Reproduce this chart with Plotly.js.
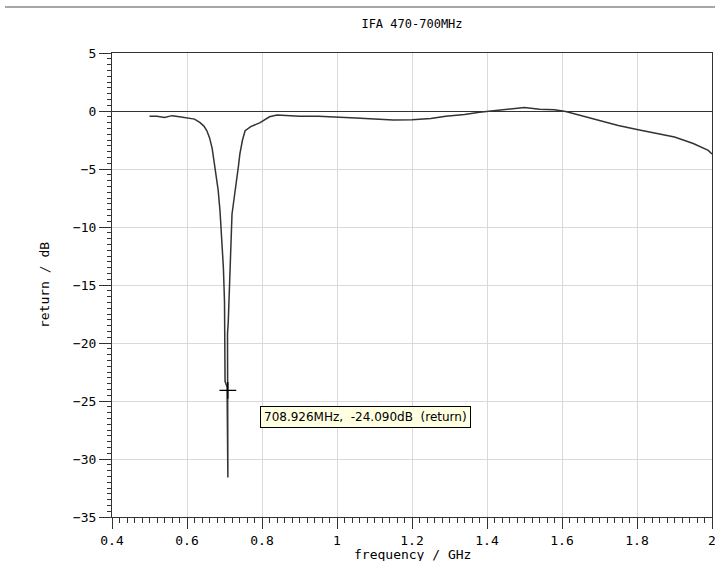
<!DOCTYPE html>
<html>
<head>
<meta charset="utf-8">
<script src="https://cdn.plot.ly/plotly-3.0.1.min.js"></script>
<style>html,body{margin:0;padding:0;background:#fff;}#chart{width:715px;height:561px;}</style>
</head>
<body>
<div id="chart"></div>
<script>
// Return loss curve (GHz, dB)
const freqGHz = [0.50,0.52,0.54,0.56,0.58,0.60,0.62,0.635,0.645,0.653,0.66,0.667,0.672,0.677,0.683,0.688,0.693,0.697,0.700,0.701,0.7012,0.7015,0.7068,0.707,0.709,0.7078,0.708,0.708,0.710,0.712,0.713,0.716,0.720,0.727,0.733,0.737,0.741,0.748,0.755,0.77,0.795,0.82,0.84,0.86,0.90,0.95,1.00,1.05,1.10,1.15,1.20,1.25,1.29,1.34,1.38,1.43,1.47,1.50,1.54,1.58,1.61,1.65,1.70,1.75,1.80,1.85,1.90,1.95,1.99,2.00];
const returnDb = [-0.45,-0.45,-0.55,-0.4,-0.5,-0.6,-0.7,-1.0,-1.3,-1.7,-2.3,-3.2,-4.2,-5.2,-6.8,-8.6,-11,-13.5,-16.4,-19,-21,-23.3,-23.8,-29.3,-31.6,-29.3,-23.3,-19.2,-18.2,-16.4,-14.5,-11.8,-8.9,-7.2,-6.0,-4.8,-3.7,-2.5,-1.7,-1.35,-1.0,-0.5,-0.35,-0.4,-0.45,-0.45,-0.5,-0.6,-0.7,-0.78,-0.75,-0.65,-0.45,-0.3,-0.1,0.05,0.2,0.3,0.15,0.1,-0.05,-0.4,-0.85,-1.25,-1.6,-1.9,-2.25,-2.8,-3.4,-3.7];

// Marker readout
const markerFreq = [0.708926];
const markerDb = [-24.09];
const markerText = "708.926MHz,\u00a0\u00a0-24.090dB\u00a0\u00a0(return)";

// Tick labels
const xTickVals = [0.4,0.6,0.8,1.0,1.2,1.4,1.6,1.8,2.0];
const xTickText = ["0.4","0.6","0.8","1","1.2","1.4","1.6","1.8","2"];
const yTickVals = [5,0,-5,-10,-15,-20,-25,-30,-35];
const yTickText = ["5","0","\u22125","\u221210","\u221215","\u221220","\u221225","\u221230","\u221235"];

const mono = "DejaVu Sans Mono, monospace";

const traces = [
  {x: freqGHz, y: returnDb, type: "scatter", mode: "lines",
   line: {color: "#333333", width: 1.5}, hoverinfo: "skip"},
  {x: markerFreq, y: markerDb, type: "scatter", mode: "markers",
   marker: {symbol: "cross-thin", size: 12, line: {color: "#000", width: 1.3}}, hoverinfo: "skip"}
];

const layout = {
  width: 715, height: 561,
  margin: {l: 112, r: 3, t: 53, b: 44},
  paper_bgcolor: "#fff", plot_bgcolor: "#fff",
  showlegend: false,
  font: {family: mono, size: 12, color: "#000"},
  title: {text: "IFA 470-700MHz", x: 0.5, xref: "paper", y: 1 - 24/561, yref: "container",
          yanchor: "middle", xanchor: "center", font: {family: mono, size: 12, color: "#000"}},
  xaxis: {
    range: [0.4, 2.0], tickmode: "array", tickvals: xTickVals, ticktext: xTickText,
    ticks: "outside", ticklen: 11, tickwidth: 1, tickcolor: "#333",
    ticklabeloverflow: "allow",
    showline: true, linecolor: "#333", linewidth: 1, mirror: true,
    showgrid: true, gridcolor: "#d9d9d9", gridwidth: 1, zeroline: false,
    minor: {dtick: 0.02, tick0: 0.4, ticks: "outside", ticklen: 5, tickcolor: "#333", showgrid: false},
    tickfont: {family: mono, size: 13}
  },
  yaxis: {
    range: [-35, 5], tickmode: "array", tickvals: yTickVals, ticktext: yTickText,
    ticks: "outside", ticklen: 12, tickwidth: 1, tickcolor: "#333",
    showline: true, linecolor: "#333", linewidth: 1, mirror: true,
    showgrid: true, gridcolor: "#d9d9d9", gridwidth: 1,
    zeroline: true, zerolinecolor: "#333", zerolinewidth: 1,
    minor: {dtick: 0.5, tick0: 0, ticks: "outside", ticklen: 4, tickcolor: "#333", showgrid: false},
    tickfont: {family: mono, size: 13},
    title: {text: "return / dB", standoff: 20, font: {family: mono, size: 13}}
  },
  shapes: [
    {type: "line", xref: "paper", yref: "paper", x0: -107/600, x1: 603/600,
     y0: 1 + 46/464, y1: 1 + 46/464, line: {color: "#888", width: 1.5}}
  ],
  annotations: [
    {x: 0.5, y: -(37/464), xref: "paper", yref: "paper", text: "frequency / GHz", showarrow: false,
     xanchor: "center", yanchor: "middle", font: {family: mono, size: 13, color: "#000"}},
    {x: markerFreq[0], y: markerDb[0], xref: "x", yref: "y", text: markerText, showarrow: false,
     xanchor: "left", yanchor: "top", xshift: 32, yshift: -16,
     bgcolor: "#ffffe1", bordercolor: "#000", borderwidth: 1, borderpad: 3,
     font: {family: "DejaVu Sans, sans-serif", size: 12, color: "#000"}}
  ]
};

Plotly.newPlot("chart", traces, layout, {displayModeBar: false, staticPlot: true});
</script>
</body>
</html>
